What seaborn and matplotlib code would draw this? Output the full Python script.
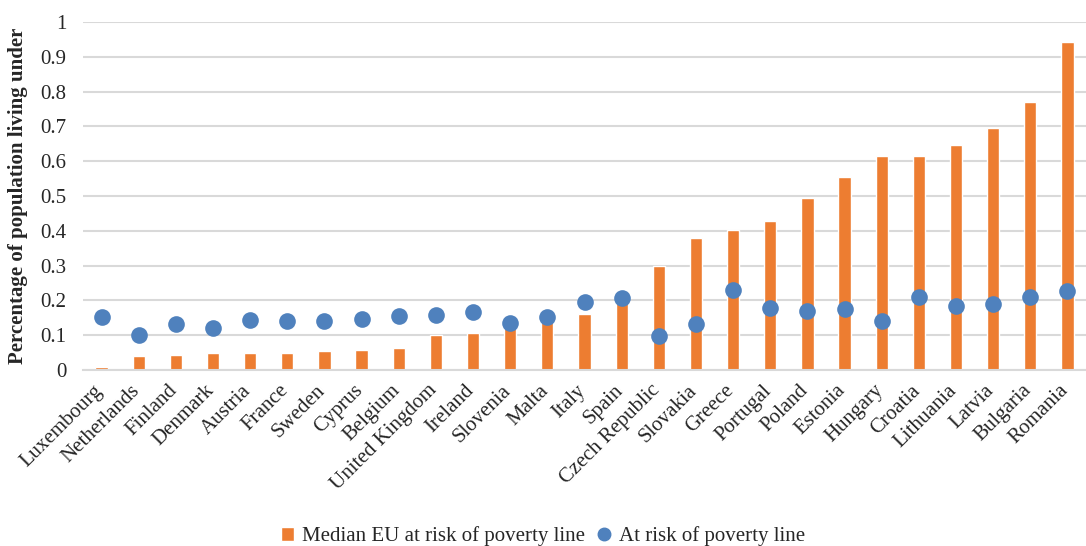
import pandas as pd
import matplotlib.pyplot as plt
import matplotlib.transforms as mtransforms
import seaborn as sns
from matplotlib.lines import Line2D
from matplotlib.patches import Patch

sns.set_style("white")
plt.rcParams["font.family"] = ["Liberation Serif", "DejaVu Serif"]

# Data
countries = ["Luxembourg", "Netherlands", "Finland", "Denmark", "Austria", "France",
             "Sweden", "Cyprus", "Belgium", "United Kingdom", "Ireland", "Slovenia",
             "Malta", "Italy", "Spain", "Czech Republic", "Slovakia", "Greece",
             "Portugal", "Poland", "Estonia", "Hungary", "Croatia", "Lithuania",
             "Latvia", "Bulgaria", "Romania"]
median_eu_line = [0.010, 0.040, 0.042, 0.048, 0.048, 0.050, 0.055, 0.057, 0.063,
                  0.100, 0.107, 0.130, 0.145, 0.162, 0.200, 0.300, 0.380, 0.403,
                  0.427, 0.493, 0.555, 0.614, 0.614, 0.646, 0.695, 0.771, 0.942]
national_line = [0.152, 0.101, 0.133, 0.120, 0.144, 0.141, 0.141, 0.147, 0.154,
                 0.159, 0.166, 0.136, 0.152, 0.196, 0.208, 0.097, 0.132, 0.229,
                 0.177, 0.169, 0.174, 0.141, 0.209, 0.185, 0.191, 0.211, 0.227]

ORANGE = "#ED7D31"
BLUE = "#4F81BD"
FS = 15

df = pd.DataFrame({"country": countries, "median": median_eu_line, "national": national_line})

fig = plt.figure(figsize=(10.86, 5.46), dpi=100)
ax = fig.add_axes([83 / 1086, 1 - 370 / 546, 1003 / 1086, 348 / 546])

sns.barplot(data=df, x="country", y="median", color=ORANGE, width=0.33,
            saturation=1, ax=ax, zorder=2)
sns.stripplot(data=df, x="country", y="national", color=BLUE, jitter=False,
              size=12, linewidth=0, ax=ax, zorder=3)

ax.set_ylim(0, 1)
ax.set_xlim(-0.5, len(countries) - 0.5)
ax.set_yticks([i / 10 for i in range(11)])
ax.set_yticklabels(["0"] + [f"0.{i}" for i in range(1, 10)] + ["1"], fontsize=FS)
ax.yaxis.grid(True, color="#D9D9D9", linewidth=1.5, zorder=0)
ax.set_axisbelow(True)
for s in ["top", "right", "left"]:
    ax.spines[s].set_visible(False)
ax.spines["bottom"].set_color("#D9D9D9")
ax.spines["bottom"].set_linewidth(1.5)
ax.tick_params(axis="y", length=0, pad=12)
ax.tick_params(axis="x", length=0, pad=8)

# rotated country names, nudged a little left like the original
shift = mtransforms.ScaledTranslation(-6 / 72, 0, fig.dpi_scale_trans)
for lab in ax.get_xticklabels():
    lab.set_rotation(45)
    lab.set_ha("right")
    lab.set_rotation_mode("anchor")
    lab.set_fontsize(FS)
    lab.set_transform(lab.get_transform() + shift)

ax.set_xlabel("")
ax.set_ylabel("Percentage of population living under", fontsize=FS, fontweight="bold")
ax.yaxis.set_label_coords(-0.055, 0.5)

handles = [Patch(facecolor=ORANGE, label="Median EU at risk of poverty line"),
           Line2D([], [], marker="o", linestyle="", color=BLUE, markersize=9,
                  label="At risk of poverty line")]
fig.legend(handles=handles, loc="lower center", ncol=2, frameon=False,
           fontsize=FS, bbox_to_anchor=(0.50, -0.035), handlelength=0.6,
           handletextpad=0.4, columnspacing=0.6)

fig.savefig("out.png", dpi=100)
